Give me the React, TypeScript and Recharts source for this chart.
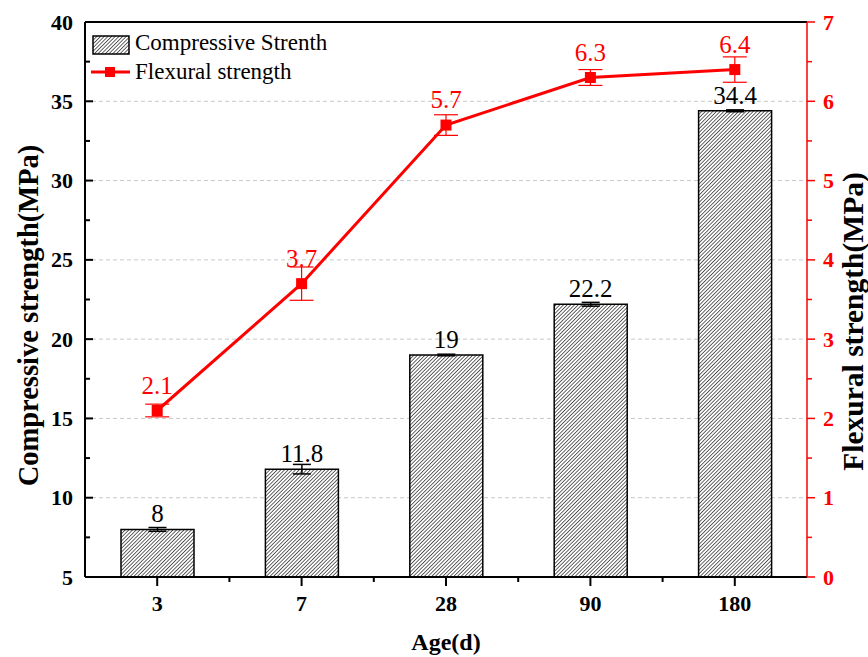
import {
  Bar,
  CartesianGrid,
  ComposedChart,
  ErrorBar,
  LabelList,
  Legend,
  Line,
  ReferenceLine,
  XAxis,
  YAxis,
} from 'recharts';

const ages = ['3', '7', '28', '90', '180'];
const compressive = [8, 11.8, 19, 22.2, 34.4];
const compressiveErr = [0.12, 0.3, 0.05, 0.12, 0.06];
const flexural = [2.1, 3.7, 5.7, 6.3, 6.4];
const flexuralErr = [0.08, 0.21, 0.13, 0.1, 0.16];

const leftTicks = [5, 7.5, 10, 12.5, 15, 17.5, 20, 22.5, 25, 27.5, 30, 32.5, 35, 37.5, 40];
const rightTicks = [0, 0.5, 1, 1.5, 2, 2.5, 3, 3.5, 4, 4.5, 5, 5.5, 6, 6.5, 7];
const gridValues = [10, 15, 20, 25, 30, 35];

const FONT = "'Liberation Serif', 'Times New Roman', serif";
const RED = '#ff0000';

const data = ages.map((age, i) => ({
  age,
  comp: compressive[i],
  compErr: compressiveErr[i],
  flex: flexural[i],
  flexErr: flexuralErr[i],
}));

// left axis: ticks point into the plot, labels every 5
const LeftTick = ({ x, y, payload }: any) => {
  const major = payload.value % 5 === 0;
  return (
    <g>
      <line x1={x} x2={x + (major ? 8 : 5)} y1={y} y2={y} stroke="#000" strokeWidth={2} />
      {major && (
        <text
          x={x - 12}
          y={y}
          textAnchor="end"
          dominantBaseline="central"
          style={{ fontFamily: FONT, fontWeight: 'bold', fontSize: 22 }}
          fill="#000"
        >
          {payload.value}
        </text>
      )}
    </g>
  );
};

// right axis: red, ticks point outward
const RightTick = ({ x, y, payload }: any) => {
  const major = Number.isInteger(payload.value);
  return (
    <g>
      <line x1={x} x2={x + (major ? 8 : 5)} y1={y} y2={y} stroke={RED} strokeWidth={1.5} />
      {major && (
        <text
          x={x + 16}
          y={y}
          textAnchor="start"
          dominantBaseline="central"
          style={{ fontFamily: FONT, fontWeight: 'bold', fontSize: 22 }}
          fill={RED}
        >
          {payload.value}
        </text>
      )}
    </g>
  );
};

// category ticks plus a short minor tick on each band boundary
const BottomTick = ({ x, y, payload, width, visibleTicksCount, index }: any) => {
  const half = width / visibleTicksCount / 2;
  return (
    <g>
      <line x1={x} x2={x} y1={y} y2={y + 9} stroke="#000" strokeWidth={2} />
      {index < visibleTicksCount - 1 && (
        <line x1={x + half} x2={x + half} y1={y} y2={y + 5} stroke="#000" strokeWidth={2} />
      )}
      <text
        x={x}
        y={y + 26}
        textAnchor="middle"
        dominantBaseline="central"
        style={{ fontFamily: FONT, fontWeight: 'bold', fontSize: 22 }}
        fill="#000"
      >
        {payload.value}
      </text>
    </g>
  );
};

const YTitle = ({ viewBox, value, cx, shift, size, fill }: any) => {
  const cy = viewBox.y + viewBox.height / 2 + shift;
  return (
    <text
      x={cx}
      y={cy}
      transform={`rotate(-90 ${cx} ${cy})`}
      textAnchor="middle"
      dominantBaseline="central"
      style={{ fontFamily: FONT, fontWeight: 'bold', fontSize: size }}
      fill={fill}
    >
      {value}
    </text>
  );
};

const XTitle = ({ viewBox, value }: any) => (
  <text
    x={viewBox.x + viewBox.width / 2}
    y={642}
    textAnchor="middle"
    dominantBaseline="central"
    style={{ fontFamily: FONT, fontWeight: 'bold', fontSize: 24 }}
    fill="#000"
  >
    {value}
  </text>
);

// value labels above bars / points
const valueLabel = (fill: string, offset: number) => (props: any) => {
  const { x, y, width, value, index } = props;
  return (
    <text
      key={`lbl-${index}`}
      x={x + width / 2}
      y={y - offset}
      textAnchor="middle"
      style={{ fontFamily: FONT, fontSize: 25 }}
      fill={fill}
    >
      {value}
    </text>
  );
};

const LegendBox = () => (
  <svg width={250} height={60} style={{ display: 'block' }}>
    <rect x={5} y={6} width={36} height={18} fill="url(#hatch)" stroke="#000" strokeWidth={1.5} />
    <text x={47} y={20} style={{ fontFamily: FONT, fontSize: 23 }} fill="#000">
      Compressive Strenth
    </text>
    <line x1={3} x2={42} y1={42} y2={42} stroke={RED} strokeWidth={3} />
    <rect x={17} y={37} width={10} height={10} fill={RED} />
    <text x={47} y={49} style={{ fontFamily: FONT, fontSize: 23 }} fill="#000">
      Flexural strength
    </text>
  </svg>
);

const SquareDot = ({ cx, cy, index }: any) => (
  <rect key={`dot-${index}`} x={cx - 5.5} y={cy - 5.5} width={11} height={11} fill={RED} />
);

const gridCoords = ({ offset }: any) =>
  gridValues.map((v) => offset.top + (offset.height * (40 - v)) / 35);

export default function App() {
  return (
    <div style={{ position: 'absolute', left: 0, top: 0, background: '#fff' }}>
      <ComposedChart
        width={868}
        height={657}
        data={data}
        margin={{ top: 22, right: 1, bottom: 50, left: 25 }}
      >
        <defs>
          <pattern
            id="hatch"
            patternUnits="userSpaceOnUse"
            width={2.6}
            height={2.6}
            patternTransform="rotate(45)"
          >
            <rect width={2.6} height={2.6} fill="#fff" />
            <line x1={0} y1={0} x2={0} y2={2.6} stroke="#111" strokeWidth={1.3} />
          </pattern>
        </defs>
        <CartesianGrid
          yAxisId="left"
          vertical={false}
          horizontalCoordinatesGenerator={gridCoords}
          stroke="#c8c8c8"
          strokeDasharray="4 3"
        />
        <XAxis
          dataKey="age"
          height={30}
          axisLine={{ stroke: '#000', strokeWidth: 2 }}
          tickLine={false}
          tickSize={0}
          tickMargin={0}
          interval={0}
          tick={<BottomTick />}
          label={<XTitle value="Age(d)" />}
        />
        <YAxis
          yAxisId="left"
          width={60}
          domain={[5, 40]}
          ticks={leftTicks}
          interval={0}
          axisLine={{ stroke: '#000', strokeWidth: 2 }}
          tickLine={false}
          tickSize={0}
          tickMargin={0}
          tick={<LeftTick />}
          label={
            <YTitle value="Compressive strength(MPa)" cx={28} shift={16} size={28.5} fill="#000" />
          }
        />
        <YAxis
          yAxisId="right"
          orientation="right"
          width={60}
          domain={[0, 7]}
          ticks={rightTicks}
          interval={0}
          axisLine={{ stroke: RED, strokeWidth: 1.5 }}
          tickLine={false}
          tickSize={0}
          tickMargin={0}
          tick={<RightTick />}
          label={
            <YTitle value="Flexural strength(MPa)" cx={853} shift={22} size={29.5} fill="#000" />
          }
        />
        <ReferenceLine yAxisId="left" y={40} stroke="#000" strokeWidth={2} />
        <Legend
          layout="horizontal"
          verticalAlign="middle"
          align="center"
          content={() => <LegendBox />}
          wrapperStyle={{ left: 88, top: 30, width: 250, height: 60 }}
        />
        <Bar
          yAxisId="left"
          dataKey="comp"
          barSize={73}
          fill="url(#hatch)"
          stroke="#000"
          strokeWidth={1.5}
          isAnimationActive={false}
        >
          <ErrorBar dataKey="compErr" direction="y" width={9} stroke="#000" strokeWidth={1.5} />
          <LabelList dataKey="comp" content={valueLabel('#000', 7)} />
        </Bar>
        <Line
          yAxisId="right"
          type="linear"
          dataKey="flex"
          stroke={RED}
          strokeWidth={3}
          dot={<SquareDot />}
          activeDot={false}
          isAnimationActive={false}
        >
          <ErrorBar dataKey="flexErr" direction="y" width={12} stroke={RED} strokeWidth={1.2} />
          <LabelList dataKey="flex" content={valueLabel(RED, 17)} />
        </Line>
      </ComposedChart>
    </div>
  );
}
